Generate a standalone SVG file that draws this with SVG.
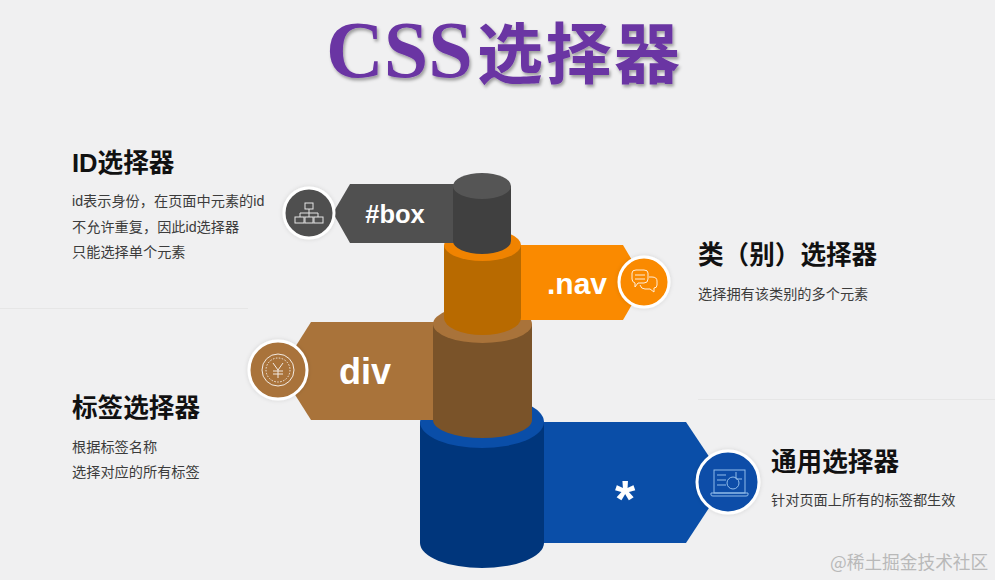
<svg xmlns="http://www.w3.org/2000/svg" width="995" height="580" viewBox="0 0 995 580">
<style>
.h{font:bold 25.6px "Liberation Sans","Noto Sans CJK SC",sans-serif;fill:#111}
.b{font:14.200px "Liberation Sans","Noto Sans CJK SC",sans-serif;fill:#3c3c3c}
.l{font-family:"Liberation Sans",sans-serif;font-weight:bold;fill:#fff;text-anchor:middle}
.t{font-weight:bold;fill:#6a35a3;filter:url(#sh)}
.ic{fill:none;stroke:#fff;stroke-width:1;opacity:.85}
.ring{stroke:#fff;stroke-width:3}
</style>
<defs>
<filter id="sh" x="-10%" y="-10%" width="120%" height="130%"><feDropShadow dx="1.5" dy="2.5" stdDeviation="1.8" flood-color="#000" flood-opacity=".35"/></filter>
<filter id="soft" x="-20%" y="-20%" width="140%" height="140%"><feDropShadow dx="0" dy="0" stdDeviation="2" flood-color="#000" flood-opacity=".12"/></filter>
</defs>
<rect width="995" height="580" fill="#f0f0f1"/>
<g id="title">
<text class="t" x="326" y="77" font-family="'Liberation Serif',serif" font-size="80">CSS</text>
<text class="t" x="477" y="78" font-family="'Noto Sans CJK SC',sans-serif" font-size="66" letter-spacing="2.500">选择器</text>
</g>
<g id="separators" stroke="#e6e6e6" stroke-width="1">
<line x1="0" y1="308.500" x2="248" y2="308.500"/>
<line x1="698" y1="399.500" x2="995" y2="399.500"/>
</g>
<g id="node-universal">
<polygon points="530,422 686,422 726,482 686,543 530,543" fill="#0a4ea8"/>
<path d="M420 422V543A62 25 0 0 0 544 543V422Z" fill="#00367c"/>
<ellipse cx="482" cy="422" rx="62" ry="26" fill="#0a4ea8"/>
<text class="l" x="625" y="517" font-size="52">*</text>
<circle cx="728" cy="482" r="31" fill="#0a4ea8" class="ring" filter="url(#soft)"/>
<g class="ic" style="stroke:#a8d0f5">
<rect x="714" y="470" width="31" height="23"/>
<path d="M711 493H748V495Q748 496 746 496H713Q711 496 711 495Z"/>
<circle cx="733" cy="483" r="6"/><path d="M736 472V479H742"/>
<path d="M717 475H726M717 480H726M717 485H726"/>
</g>
</g>
<g id="node-div">
<polygon points="311,322 440,322 440,420 311,420 280,371" fill="#a9733a"/>
<path d="M433 324V420A49.500 18 0 0 0 532 420V324Z" fill="#7a5329"/>
<ellipse cx="482.500" cy="324" rx="49.500" ry="19" fill="#a9733a"/>
<text class="l" x="365" y="384" font-size="36">div</text>
<circle cx="278" cy="370" r="29" fill="#a9733a" class="ring" filter="url(#soft)"/>
<g class="ic">
<circle cx="278" cy="370" r="16"/><circle cx="278" cy="370" r="12" stroke-dasharray="1.500 1.500"/>
<path d="M273 363L278 370L283 363M278 370V378M273 371H283M273 374H283"/>
</g>
</g>
<g id="node-nav">
<polygon points="515,245 623,245 645,282 623,320 515,320" fill="#fa8a00"/>
<path d="M444 245V318A38.500 17 0 0 0 521 318V245Z" fill="#b86a00"/>
<ellipse cx="482.500" cy="245" rx="38.500" ry="16" fill="#f08300"/>
<text class="l" x="577" y="294" font-size="30">.nav</text>
<circle cx="644" cy="282" r="25" fill="#fa8a00" class="ring" filter="url(#soft)"/>
<g class="ic">
<path d="M632 273Q632 270 636 270H644Q648 270 648 273V279Q648 283 644 283H638L635 287V283Q632 282 632 279Z"/>
<path d="M649 277H652Q657 277 657 281V285Q657 288 654 288V292L650 289H645Q641 289 640 285"/>
<path d="M635 275H645M635 279H645"/>
</g>
</g>
<g id="node-box">
<polygon points="350,184 460,184 460,243 350,243 333,213" fill="#505050"/>
<path d="M453 186V241A29 13 0 0 0 511 241V186Z" fill="#404040"/>
<ellipse cx="482" cy="186" rx="29" ry="13" fill="#555"/>
<text class="l" x="395" y="223" font-size="25.500">#box</text>
<circle cx="309" cy="213" r="25" fill="#505050" class="ring" filter="url(#soft)"/>
<g class="ic">
<rect x="305" y="203" width="8" height="6"/><path d="M309 209V213M300 217V213H318V217M309 213V217"/>
<rect x="295" y="217" width="9" height="6"/><rect x="305" y="217" width="8" height="6"/><rect x="314" y="217" width="9" height="6"/>
</g>
</g>
<g id="text-id">
<text class="h" x="72" y="172">ID选择器</text>
<text class="b" x="72" y="206">id表示身份，在页面中元素的id</text>
<text class="b" x="72" y="232">不允许重复，因此id选择器</text>
<text class="b" x="72" y="257">只能选择单个元素</text>
</g>
<g id="text-class">
<text class="h" x="698" y="264">类（别）选择器</text>
<text class="b" x="698" y="299">选择拥有该类别的多个元素</text>
</g>
<g id="text-tag">
<text class="h" x="72" y="417">标签选择器</text>
<text class="b" x="72" y="452">根据标签名称</text>
<text class="b" x="72" y="477">选择对应的所有标签</text>
</g>
<g id="text-universal">
<text class="h" x="771" y="471">通用选择器</text>
<text class="b" x="771" y="505">针对页面上所有的标签都生效</text>
</g>
<text x="830" y="569" font-family="'Noto Sans CJK SC',sans-serif" font-size="17.700" fill="#b9b9b9">@稀土掘金技术社区</text>
</svg>
